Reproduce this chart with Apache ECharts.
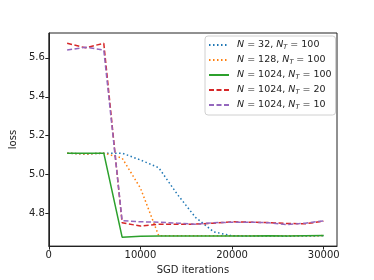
<!DOCTYPE html>
<html><head><meta charset="utf-8">
<script src="https://cdn.jsdelivr.net/npm/echarts@6/dist/echarts.min.js"></script>
<style>html,body{margin:0;padding:0;background:#fff}#c{width:374px;height:280px}</style>
</head><body><div id="c"></div>
<script>
const iterations = [2000,4000,6000,8000,10000,12000,14000,16000,18000,20000,22000,24000,26000,28000,30000];
const nValues = [32, 128, 1024, 1024, 1024];
const ntValues = [100, 100, 100, 20, 10];
const lossN32 = [5.11,5.105,5.11,5.11,5.075,5.035,4.90,4.78,4.705,4.685,4.684,4.684,4.683,4.684,4.685];
const lossN128 = [5.11,5.105,5.11,5.085,4.93,4.685,4.685,4.685,4.685,4.685,4.685,4.685,4.685,4.685,4.686];
const lossN1024 = [5.11,5.11,5.11,4.678,4.683,4.684,4.684,4.684,4.684,4.684,4.684,4.685,4.684,4.685,4.686];
const lossNT20 = [5.675,5.652,5.675,4.752,4.735,4.745,4.745,4.745,4.75,4.757,4.755,4.753,4.748,4.747,4.76];
const lossNT10 = [5.64,5.655,5.64,4.763,4.757,4.755,4.75,4.745,4.752,4.755,4.755,4.752,4.743,4.75,4.762];
const xTicks = [0,10000,20000,30000];
const yTicks = [4.8,5.0,5.2,5.4,5.6];

const seriesData = [lossN32, lossN128, lossN1024, lossNT20, lossNT10];
const colors = ['#1f77b4','#ff7f0e','#2ca02c','#d62728','#9467bd'];
const styles = [[1.5,2.5],[1.5,2.5],'solid',[5,2.5],[5,2.5]];
const names = nValues.map((n,i)=>'N = '+n+', NT = '+ntValues[i]);

const chart = echarts.init(document.getElementById('c'), null, {renderer:'canvas'});
const font = 'DejaVu Sans';
chart.setOption({
  animation:false,
  grid:{left:46,right:37,top:33,bottom:32,show:true,borderColor:'#222',borderWidth:1,backgroundColor:'transparent'},
  xAxis:{type:'value',min:0,max:31450,
    name:'SGD iterations',nameLocation:'middle',nameGap:17,
    nameTextStyle:{fontFamily:font,fontSize:10,color:'#222'},
    axisLine:{show:true,lineStyle:{color:'#222'}},
    axisTick:{show:true,length:3.5,lineStyle:{color:'#222'},customValues:xTicks},
    axisLabel:{fontFamily:font,fontSize:10,color:'#222',margin:4,customValues:xTicks,formatter:v=>String(v)},
    splitLine:{show:false}},
  yAxis:{type:'value',min:4.632,max:5.728,
    name:'loss',nameLocation:'middle',nameGap:21,
    nameTextStyle:{fontFamily:font,fontSize:10,color:'#222'},
    axisLine:{show:true,lineStyle:{color:'#222'}},
    axisTick:{show:true,length:3.5,lineStyle:{color:'#222'},customValues:yTicks},
    axisLabel:{fontFamily:font,fontSize:10,color:'#222',margin:4,customValues:yTicks,formatter:v=>v.toFixed(1)},
    splitLine:{show:false}},
  legend:{orient:'vertical',left:205,top:36,itemWidth:20,itemHeight:10,itemGap:4,
    padding:[4,4,4,3],borderColor:'#d0d0d0',borderWidth:1,borderRadius:3,backgroundColor:'#fff',
    itemStyle:{opacity:0},
    data:names,
    formatter:function(name){const i=names.indexOf(name);
      return '{i|N}{t| = '+nValues[i]+', }{i|N}{s|T}{t| = '+ntValues[i]+'}';},
    textStyle:{fontFamily:font,fontSize:9.5,color:'#222',padding:[0,0,0,3],
      rich:{i:{fontFamily:font,fontSize:9.5,fontStyle:'italic',color:'#222'},
            t:{fontFamily:font,fontSize:9.5,color:'#222'},
            s:{fontFamily:font,fontSize:6.5,fontStyle:'italic',color:'#222',padding:[5,0,0,0]}}}},
  series:seriesData.map((d,i)=>({
    name:names[i],type:'line',symbol:'none',
    data:iterations.map((x,j)=>[x,d[j]]),
    lineStyle:{color:colors[i],width:1.5,type:styles[i]},
    itemStyle:{color:colors[i]}
  }))
});
</script></body></html>
